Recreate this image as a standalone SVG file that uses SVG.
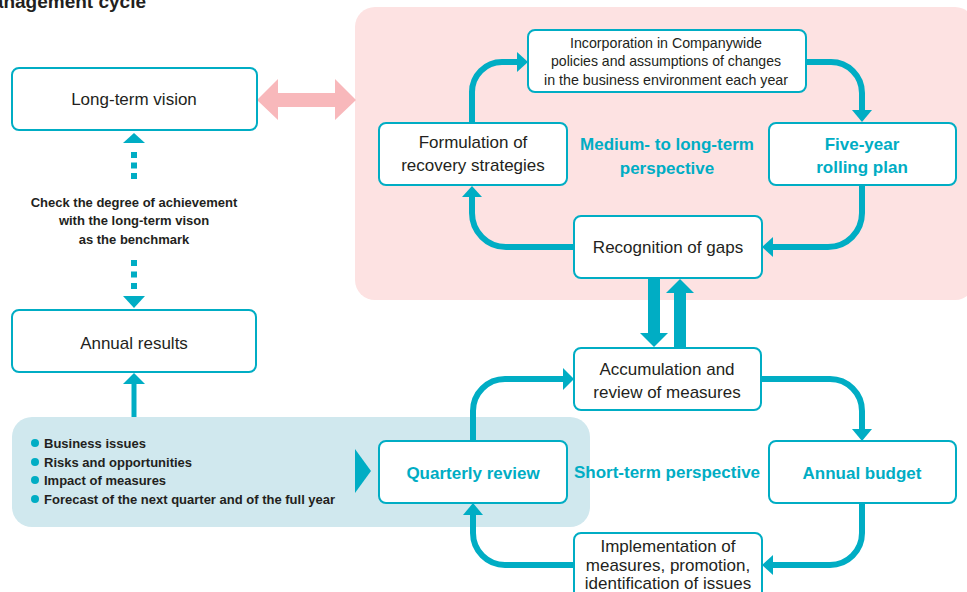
<svg xmlns="http://www.w3.org/2000/svg" width="967" height="592" viewBox="0 0 967 592">
<defs>
<style>
.box{fill:#ffffff;stroke:#00adc4;stroke-width:2}
.t{font-family:"Liberation Sans",Arial,sans-serif;font-size:17px;fill:#231f20;text-anchor:middle}
.tc{font-family:"Liberation Sans",Arial,sans-serif;font-size:15px;fill:#231f20;text-anchor:middle}
.tb{font-family:"Liberation Sans",Arial,sans-serif;font-size:17px;font-weight:bold;fill:#00adc4;text-anchor:middle}
.sm{font-family:"Liberation Sans",Arial,sans-serif;font-size:13px;font-weight:bold;fill:#231f20}
.ln{fill:none;stroke:#00adc4;stroke-width:6}
.hd{fill:#00adc4}
</style>
</defs>
<rect width="967" height="592" fill="#ffffff"/>
<text x="146" y="8" text-anchor="end" style="font-family:'Liberation Sans',Arial,sans-serif;font-size:19px;font-weight:bold;fill:#231f20">Management cycle</text>

<rect id="panel-medium" x="355" y="7" width="620" height="293" rx="20" fill="#fde2e2"/>
<rect id="panel-short" x="12" y="417" width="578" height="110" rx="20" fill="#d0e8ee"/>

<g id="connectors">
<polygon points="257,100 278,79 278,93 335,93 335,79 356,100 335,120 335,107 278,107 278,120" fill="#f8b8bb"/>
<line x1="134" y1="152" x2="134" y2="182" stroke="#00adc4" stroke-width="6" stroke-dasharray="6 4.5"/>
<polygon class="hd" points="134,133 145,143 123,143"/>
<line x1="134" y1="260" x2="134" y2="292" stroke="#00adc4" stroke-width="6" stroke-dasharray="6 5.5"/>
<polygon class="hd" points="123,296 145,296 134,308"/>
<line x1="134" y1="417" x2="134" y2="382" stroke="#00adc4" stroke-width="5"/>
<polygon class="hd" points="134,373 145,384 123,384"/>
<polygon class="hd" points="355,449 371,471 355,493"/>

<path class="ln" d="M472 123 V92 A30 30 0 0 1 502 62 H518"/>
<polygon class="hd" points="528,62 517,52 517,72"/>
<path class="ln" d="M806 62 H831 A31 31 0 0 1 862 93 V111"/>
<polygon class="hd" points="862,122 852,110 872,110"/>
<path class="ln" d="M862 185 V213 A34 34 0 0 1 828 247 H773"/>
<polygon class="hd" points="762,247 773,237 773,257"/>
<path class="ln" d="M574 247 H506 A34 34 0 0 1 472 213 V196"/>
<polygon class="hd" points="472,186 462,197 482,197"/>

<rect x="648" y="278" width="12" height="56" class="hd"/>
<polygon class="hd" points="640,333 668,333 654,347"/>
<rect x="674" y="292" width="12" height="56" class="hd"/>
<polygon class="hd" points="666,293 694,293 680,279"/>

<path class="ln" d="M473 440 V411 A32 32 0 0 1 505 379 H564"/>
<polygon class="hd" points="574,379 563,368 563,390"/>
<path class="ln" d="M761 379 H830 A32 32 0 0 1 862 411 V430"/>
<polygon class="hd" points="862,441 852,429 872,429"/>
<path class="ln" d="M862 503 V533 A32 32 0 0 1 830 565 H773"/>
<polygon class="hd" points="762,565 773,555 773,575"/>
<path class="ln" d="M574 565 H505 A32 32 0 0 1 473 533 V514"/>
<polygon class="hd" points="473,503 463,515 483,515"/>
</g>

<g id="long-term-vision">
<rect class="box" x="12" y="68" width="245" height="62" rx="7"/>
<text class="t" x="134" y="105">Long-term vision</text>
</g>

<g id="check-label">
<text class="sm" x="134" y="206.5" text-anchor="middle">Check the degree of achievement</text>
<text class="sm" x="134" y="224.5" text-anchor="middle">with the long-term vison</text>
<text class="sm" x="134" y="243.5" text-anchor="middle">as the benchmark</text>
</g>

<g id="annual-results">
<rect class="box" x="12" y="310" width="244" height="62" rx="7"/>
<text class="t" x="134" y="349">Annual results</text>
</g>

<g id="bullets">
<circle class="hd" cx="35" cy="443" r="4"/>
<circle class="hd" cx="35" cy="462" r="4"/>
<circle class="hd" cx="35" cy="480" r="4"/>
<circle class="hd" cx="35" cy="499" r="4"/>
<text class="sm" x="44" y="447.5">Business issues</text>
<text class="sm" x="44" y="466.5">Risks and opportunities</text>
<text class="sm" x="44" y="484.5">Impact of measures</text>
<text class="sm" x="44" y="503.5">Forecast of the next quarter and of the full year</text>
</g>

<g id="incorporation">
<rect class="box" x="528" y="30" width="278" height="62" rx="7"/>
<text class="tc" x="666" y="47.5" textLength="192" lengthAdjust="spacingAndGlyphs">Incorporation in Companywide</text>
<text class="tc" x="666" y="66" textLength="230" lengthAdjust="spacingAndGlyphs">policies and assumptions of changes</text>
<text class="tc" x="666" y="84.5" textLength="244" lengthAdjust="spacingAndGlyphs">in the business environment each year</text>
</g>

<g id="formulation">
<rect class="box" x="379" y="123" width="188" height="62" rx="7"/>
<text class="t" x="473" y="148">Formulation of</text>
<text class="t" x="473" y="171">recovery strategies</text>
</g>

<g id="medium-label">
<text class="tb" x="667" y="150">Medium- to long-term</text>
<text class="tb" x="667" y="174">perspective</text>
</g>

<g id="five-year">
<rect class="box" x="769" y="123" width="187" height="62" rx="7"/>
<text class="tb" x="862" y="150">Five-year</text>
<text class="tb" x="862" y="173">rolling plan</text>
</g>

<g id="recognition">
<rect class="box" x="574" y="216" width="188" height="62" rx="7"/>
<text class="t" x="668" y="253">Recognition of gaps</text>
</g>

<g id="accumulation">
<rect class="box" x="574" y="348" width="187" height="62" rx="7"/>
<text class="t" x="667" y="375">Accumulation and</text>
<text class="t" x="667" y="398">review of measures</text>
</g>

<g id="quarterly">
<rect class="box" x="379" y="441" width="188" height="62" rx="7"/>
<text class="tb" x="473" y="479">Quarterly review</text>
</g>

<g id="short-label">
<text class="tb" x="667" y="478">Short-term perspective</text>
</g>

<g id="annual-budget">
<rect class="box" x="769" y="441" width="187" height="62" rx="7"/>
<text class="tb" x="862" y="479">Annual budget</text>
</g>

<g id="implementation">
<rect class="box" x="574" y="533" width="188" height="66" rx="7"/>
<text class="t" x="668" y="552">Implementation of</text>
<text class="t" x="668" y="571">measures, promotion,</text>
<text class="t" x="668" y="589">identification of issues</text>
</g>
</svg>
